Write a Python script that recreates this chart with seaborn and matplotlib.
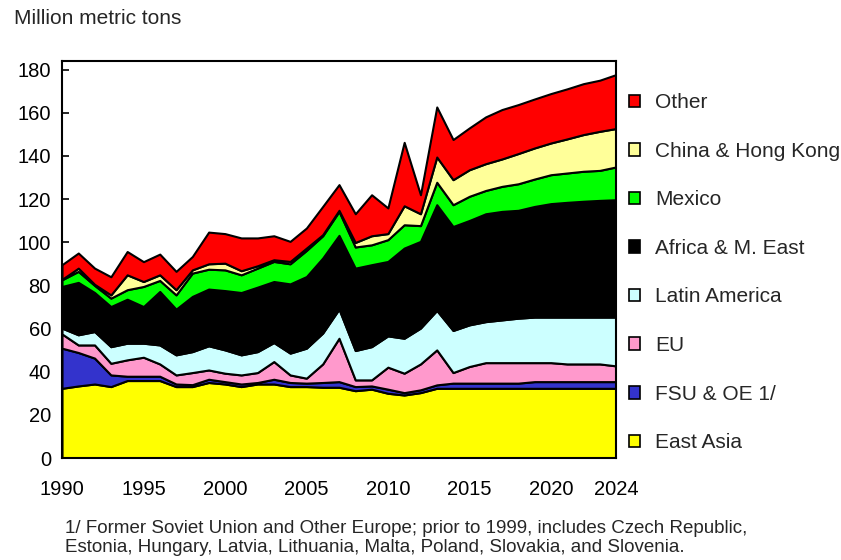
import seaborn as sns
import matplotlib as mpl
from matplotlib import pyplot as plt
from matplotlib.patches import Patch

mpl.use('Agg')

years = list(range(1990, 2025))

east_asia = [32.3, 33.4, 34.3, 33.1, 35.9, 35.9, 35.9, 33.1, 33.1, 35.0,
             34.3, 33.1, 34.3, 34.3, 33.1, 33.1, 32.8, 32.8, 31.2, 31.9,
             30.0, 29.2, 30.3, 32.3, 32.3, 32.3, 32.3, 32.3, 32.3, 32.3,
             32.3, 32.3, 32.3, 32.3, 32.3]
fsu_oe = [18.6, 15.5, 12.0, 5.4, 2.0, 2.0, 2.0, 1.2, 0.9, 1.5,
          1.1, 1.2, 0.7, 2.2, 1.9, 1.6, 2.2, 2.6, 1.9, 1.5,
          1.9, 1.1, 1.3, 1.6, 2.4, 2.4, 2.4, 2.4, 2.4, 3.1,
          3.1, 3.1, 3.1, 3.1, 3.1]
eu = [6.6, 3.5, 6.1, 5.4, 7.6, 8.8, 5.7, 4.2, 5.6, 4.3,
      3.9, 4.2, 4.6, 8.2, 3.5, 2.3, 8.6, 20.1, 3.1, 2.8,
      10.2, 9.0, 12.0, 16.2, 4.9, 7.7, 9.5, 9.5, 9.5, 8.8,
      8.8, 8.2, 8.2, 8.2, 7.3]
latin_america = [2.7, 4.7, 6.2, 7.7, 7.7, 6.5, 8.8, 9.3, 9.7, 11.2,
                 10.8, 9.3, 9.7, 8.8, 10.1, 13.9, 14.3, 13.5, 13.6, 15.4,
                 14.5, 16.2, 16.6, 18.3, 19.5, 19.3, 19.0, 19.8, 20.6, 21.1,
                 21.1, 21.7, 21.7, 21.7, 22.6]
africa_me = [19.3, 24.3, 18.1, 18.6, 20.4, 17.0, 24.8, 21.2, 25.6, 26.3,
             27.5, 28.9, 29.9, 28.3, 32.1, 33.2, 34.8, 34.2, 38.2, 38.0,
             34.5, 41.8, 40.2, 49.0, 48.2, 48.4, 50.0, 50.3, 50.0, 51.3,
             52.6, 53.2, 53.7, 54.1, 54.4]
mexico = [3.1, 5.1, 3.3, 3.9, 4.4, 9.3, 5.1, 6.6, 10.8, 9.2,
          9.6, 8.2, 8.8, 9.3, 9.3, 12.1, 10.3, 11.1, 9.8, 9.2,
          10.1, 10.8, 7.3, 10.4, 10.1, 11.2, 10.8, 11.6, 12.3, 12.7,
          13.4, 13.6, 13.9, 13.9, 15.2]
china_hk = [0.2, 1.5, 0.5, 1.5, 6.9, 2.3, 2.6, 2.4, 1.5, 2.5,
            3.1, 1.9, 1.1, 0.8, 1.1, 1.1, 0.5, 0.5, 2.1, 4.2,
            2.8, 8.8, 5.5, 11.7, 11.6, 12.3, 12.4, 12.7, 14.0, 14.4,
            14.7, 15.8, 17.0, 18.1, 17.8]
other = [6.8, 7.0, 7.5, 8.4, 10.8, 9.2, 9.6, 8.5, 6.2, 14.7,
         13.7, 15.2, 12.9, 11.1, 9.3, 9.3, 13.1, 11.9, 13.3, 19.0,
         11.9, 29.4, 8.8, 23.2, 18.6, 19.4, 21.7, 22.9, 22.7, 22.7,
         22.9, 23.2, 23.6, 23.7, 25.0]

labels = ['East Asia', 'FSU & OE 1/', 'EU', 'Latin America',
          'Africa & M. East', 'Mexico', 'China & Hong Kong', 'Other']
colors = ['#FFFF00', '#3333CC', '#FF99CC', '#CCFFFF',
          '#000000', '#00FF00', '#FFFF99', '#FF0000']
series = [east_asia, fsu_oe, eu, latin_america, africa_me, mexico, china_hk, other]

sns.set_style('white')
plt.rcParams['font.family'] = ['Liberation Sans', 'DejaVu Sans']

fig = plt.figure(figsize=(8.41, 5.6), dpi=100)
ax = fig.add_axes([62 / 841, 1 - 458 / 560, (616 - 62) / 841, (458 - 61) / 560])

ax.stackplot(years, *series, colors=colors, edgecolor='black', linewidth=1.5)

ax.set_xlim(1990, 2024)
ax.set_ylim(0, 184)
ax.set_yticks(range(0, 181, 20))
ax.set_xticks([1990, 1995, 2000, 2005, 2010, 2015, 2020, 2024])
ax.set_xticklabels(['1990', '1995', '2000', '2005', '2010', '2015', '2020', '2024'])
ax.tick_params(axis='both', direction='in', length=5, width=1.2, labelsize=14.5,
               colors='black', pad=8, bottom=True, left=True)
ax.tick_params(axis='x', pad=16)
for s in ax.spines.values():
    s.set_color('black')
    s.set_linewidth(1.5)
ax.set_zorder(1)

fig.text(14 / 841, 1 - 18 / 560, 'Million metric tons', fontsize=15,
         va='center', ha='left')

handles = [Patch(facecolor=c, edgecolor='black', linewidth=1.2, label=l)
           for c, l in zip(colors, labels)]
ax.legend(handles=handles[::-1], loc='upper left', bbox_to_anchor=(1.008, 0.94),
          frameon=False, fontsize=15, handlelength=0.55, handleheight=0.55,
          handletextpad=0.7, labelspacing=1.42, borderaxespad=0)

fig.text(65 / 841, 1 - 538 / 560,
         '1/ Former Soviet Union and Other Europe; prior to 1999, includes Czech Republic,\n'
         'Estonia, Hungary, Latvia, Lithuania, Malta, Poland, Slovakia, and Slovenia.',
         fontsize=13.5, va='center', ha='left', linespacing=1.18)

plt.savefig('out.png', dpi=100)
